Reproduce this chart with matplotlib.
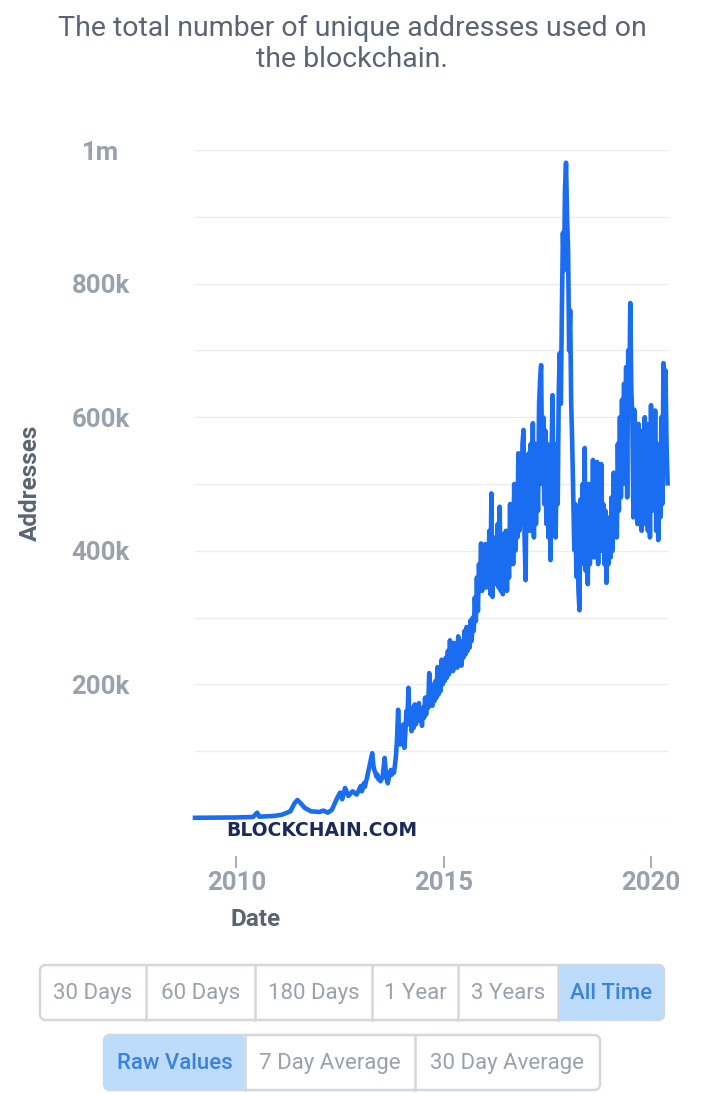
import numpy as np
import matplotlib
matplotlib.use("Agg")
import matplotlib.pyplot as plt
from matplotlib.patches import FancyBboxPatch

# unique addresses per day (thousands)
# sparse early history
early_years = [2009.0, 2009.5, 2010.0, 2010.4, 2010.5, 2010.55, 2010.9, 2011.1, 2011.3, 2011.4,
               2011.47, 2011.55, 2011.65, 2011.8, 2012.0, 2012.1, 2012.2, 2012.3, 2012.43, 2012.5,
               2012.55, 2012.62, 2012.7, 2012.8, 2012.9]
early_vals = [0.3, 0.5, 0.8, 1.5, 8, 2, 3, 5, 10, 22,
              27, 22, 15, 10, 9, 11, 8, 12, 30, 38,
              28, 45, 33, 40, 35]

# from 2013 on, one reading every 0.025 year
dense_start = 2013.0
dense_step = 0.025
vals_2013 = [48, 40, 45, 52, 47, 55, 60, 68, 75, 82, 90, 97, 80, 72, 68, 62, 65, 58, 60, 55,
             58, 62, 75, 90, 70, 58, 52, 60, 66, 72, 65, 70, 68, 80, 95, 120, 162, 125, 110, 135]
vals_2014 = [118, 140, 105, 128, 160, 150, 195, 140, 165, 130, 160, 135, 170, 140, 165, 145, 172, 148, 160, 138,
             165, 150, 180, 155, 181, 165, 217, 170, 195, 168, 200, 175, 205, 180, 226, 185, 215, 190, 237, 200]
vals_2015 = [228, 205, 240, 210, 250, 215, 266, 225, 255, 220, 262, 230, 250, 225, 272, 235, 260, 228, 265, 240,
             280, 245, 286, 250, 278, 255, 296, 265, 300, 280, 330, 295, 360, 310, 380, 345, 411, 340, 395, 350]
vals_2016 = [410, 345, 400, 360, 430, 335, 486, 331, 420, 350, 400, 356, 440, 345, 466, 340, 425, 335, 415, 350,
             430, 340, 410, 360, 470, 380, 470, 380, 500, 400, 480, 420, 546, 430, 510, 440, 560, 581, 420, 356]
vals_2017 = [520, 450, 546, 430, 560, 470, 591, 420, 560, 440, 530, 460, 620, 656, 678, 500, 600, 470, 580, 440,
             560, 420, 520, 386, 540, 633, 480, 560, 420, 540, 470, 640, 696, 620, 760, 876, 820, 940, 981, 900]
vals_2018 = [850, 700, 760, 620, 560, 480, 401, 470, 361, 440, 340, 311, 477, 380, 500, 420, 554, 370, 480, 350,
             500, 380, 470, 400, 536, 390, 510, 400, 533, 380, 500, 410, 530, 400, 470, 380, 460, 352, 430, 380]
vals_2019 = [450, 390, 480, 400, 517, 430, 500, 420, 560, 460, 600, 480, 626, 500, 650, 520, 675, 480, 700, 620,
             771, 640, 600, 450, 611, 470, 560, 440, 590, 460, 560, 430, 580, 450, 600, 440, 590, 430, 560, 420]
vals_2020 = [618, 460, 600, 470, 610, 430, 560, 416, 540, 450, 600, 470, 681, 640, 670, 560, 501]

dense_vals = vals_2013 + vals_2014 + vals_2015 + vals_2016 + vals_2017 + vals_2018 + vals_2019 + vals_2020
dense_years = list(dense_start + dense_step * np.arange(len(dense_vals)))

years = early_years + dense_years
addresses = early_vals + dense_vals

title = "The total number of unique addresses used on\nthe blockchain."
ytick_vals = [200, 400, 600, 800, 1000]
ytick_labels = ["200k", "400k", "600k", "800k", "1m"]
xtick_vals = [2010, 2015, 2020]
range_buttons = ["30 Days", "60 Days", "180 Days", "1 Year", "3 Years", "All Time"]
avg_buttons = ["Raw Values", "7 Day Average", "30 Day Average"]

W, H = 710, 1094
fig = plt.figure(figsize=(W / 100, H / 100), dpi=100)
fig.patch.set_facecolor("white")

gray = "#99a1ad"
dark = "#5b6472"
blue = "#1a6cf0"

ax = fig.add_axes([195 / W, 1 - 818 / H, 473 / W, 668 / H])
ax.plot(years, addresses, color=blue, lw=3.3, solid_joinstyle="round", clip_on=False, zorder=3)
ax.set_xlim(2009.0, 2020.41)
ax.set_ylim(0, 1000)
ax.set_yticks(ytick_vals)
ax.set_yticklabels(ytick_labels)
ax.set_yticks(np.arange(0, 1001, 100), minor=True)
ax.grid(True, which="both", axis="y", color="#e9edf1", lw=1)
ax.set_axisbelow(True)
ax.set_xticks(xtick_vals)
for s in ax.spines.values():
    s.set_visible(False)
ax.spines["bottom"].set_position(("outward", 27))
ax.tick_params(axis="y", which="both", length=0)
ax.tick_params(axis="y", pad=68, labelsize=18.5, labelcolor=gray)
ax.tick_params(axis="x", length=8.5, width=1.2, color="#9aa1ab", pad=3,
               labelsize=18.5, labelcolor=gray)
for t in ax.get_yticklabels() + ax.get_xticklabels():
    t.set_family("Roboto")
    t.set_fontweight("bold")
for t in ax.get_yticklabels():
    t.set_ha("center")

# overlay in pixel coordinates for the page furniture
ov = fig.add_axes([0, 0, 1, 1], zorder=-1)
ov.set_xlim(0, W)
ov.set_ylim(H, 0)
ov.axis("off")

ov.text(352, 44, title, ha="center", va="center", fontsize=20.5, color=dark,
        family="Roboto", linespacing=1.15)
ov.text(30, 483, "Addresses", rotation=90, ha="center", va="center", fontsize=17.5,
        color=dark, family="Roboto", fontweight="bold")
ov.text(256, 920, "Date", ha="center", va="center", fontsize=17.5, color=dark,
        family="Roboto", fontweight="bold")

fig.text(226 / W, 1 - 831 / H, "BLOCKCHAIN.COM", ha="left", va="center", fontsize=13.5,
         fontweight="bold", color="#1c2a5a", zorder=5)

def button_row(labels, edges, y0, y1, active):
    box = FancyBboxPatch((edges[0], y0), edges[-1] - edges[0], y1 - y0,
                         boxstyle="round,pad=0,rounding_size=6", fc="white",
                         ec="#d3d8de", lw=1.8)
    ov.add_patch(box)
    for i, lab in enumerate(labels):
        xa, xb = edges[i], edges[i + 1]
        if i == active:
            hl = FancyBboxPatch((xa, y0), xb - xa, y1 - y0,
                                boxstyle="round,pad=0,rounding_size=6",
                                fc="#bddcfb", ec="none")
            ov.add_patch(hl)
            col = "#3b82dc"
        else:
            col = gray
        if i > 0:
            ov.plot([xa, xa], [y0, y1], color="#d3d8de", lw=1.8)
        ov.text((xa + xb) / 2, (y0 + y1) / 2 + 1, lab, ha="center", va="center",
                fontsize=16, color=col, family="Roboto",
                fontweight="medium" if i == active else "normal")

button_row(range_buttons, [40, 146, 255, 372, 458, 558, 664], 965, 1020, 5)
button_row(avg_buttons, [104, 245, 415, 600], 1035, 1090, 0)

fig.savefig("out.png", dpi=100)
